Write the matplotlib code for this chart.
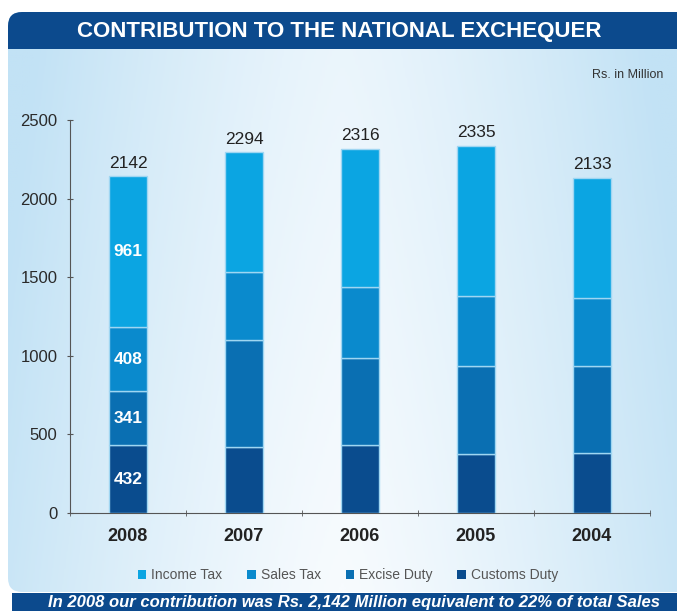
import numpy as np
import matplotlib
matplotlib.use("Agg")
import matplotlib.pyplot as plt
from matplotlib.patches import FancyBboxPatch, Rectangle
from matplotlib.colors import LinearSegmentedColormap

plt.rcParams['font.family'] = ['Liberation Sans', 'DejaVu Sans']

# data (Rs. in Million)
years = ["2008", "2007", "2006", "2005", "2004"]
customs_duty = [432, 422, 433, 376, 380]
excise_duty = [341, 680, 552, 556, 558]
sales_tax = [408, 429, 452, 446, 429]
income_tax = [961, 763, 879, 957, 766]
totals = [2142, 2294, 2316, 2335, 2133]

series = [
    ("Customs Duty", customs_duty, "#0a4c8e"),
    ("Excise Duty", excise_duty, "#0a6fb2"),
    ("Sales Tax", sales_tax, "#0a8acd"),
    ("Income Tax", income_tax, "#0ba5e2"),
]

W, H = 677, 611
fig = plt.figure(figsize=(W / 100, H / 100), dpi=100)
fig.patch.set_facecolor("white")

# background panel, drawn in pixel coords
bg = fig.add_axes([0, 0, 1, 1])
bg.set_xlim(0, W)
bg.set_ylim(H, 0)
bg.axis("off")

panel = FancyBboxPatch((8, 12), 720, 580, boxstyle="round,pad=0,rounding_size=14",
                       facecolor="none", edgecolor="none")
bg.add_patch(panel)
gx, gy = np.meshgrid(np.linspace(0, 1, 300), np.linspace(0, 1, 300))
grad = np.clip(np.abs(gx - 0.5) * 2.0, 0, 1) ** 1.3 * 0.85 + (1 - gy) * 0.25
grad = np.clip(grad, 0, 1)
cmap = LinearSegmentedColormap.from_list("bgc", ["#f7fbfe", "#c2e2f5"])
im = bg.imshow(grad, cmap=cmap, extent=(8, 677, 592, 12), aspect="auto", zorder=0)
im.set_clip_path(panel)

header = Rectangle((8, 12), 700, 37, facecolor="#0c4a8d", edgecolor="none", zorder=1)
bg.add_patch(header)
header.set_clip_path(panel)
bg.text(339, 31, "CONTRIBUTION TO THE NATIONAL EXCHEQUER", color="white",
        fontsize=16, fontweight="bold", ha="center", va="center", zorder=2)

bg.add_patch(Rectangle((12, 593), 680, 20, facecolor="#0c4a8d", edgecolor="none", zorder=1))
bg.text(354, 603, "In 2008 our contribution was Rs. 2,142 Million equivalent to 22% of total Sales",
        color="white", fontsize=12, fontweight="bold", style="italic",
        ha="center", va="center", zorder=2)

bg.text(663, 75, "Rs. in Million", color="#333333", fontsize=9, ha="right", va="center")

# chart axes
ax = fig.add_axes([70 / W, (H - 513) / H, 580 / W, 393 / H])
ax.patch.set_alpha(0)
x = np.arange(len(years))
bottom = np.zeros(len(years))
for name, vals, col in series:
    ax.bar(x, vals, width=0.33, bottom=bottom, color=col, edgecolor="#9fd6f2",
           linewidth=1, label=name, zorder=3)
    # segment values are printed only for the first year
    ax.text(x[0], bottom[0] + vals[0] / 2, str(vals[0]), color="white", fontsize=12.5,
            fontweight="bold", ha="center", va="center", zorder=4)
    bottom += np.array(vals)

for xi, t in zip(x, totals):
    ax.text(xi, t + 35, str(t), color="#222222", fontsize=12.5, ha="center", va="bottom")

ax.set_xlim(-0.5, len(years) - 0.5)
ax.set_ylim(0, 2500)
ax.set_yticks([0, 500, 1000, 1500, 2000, 2500])
ax.set_xticks(x)
ax.set_xticklabels(years, fontsize=13, fontweight="bold", color="#222222")
ax.set_xticks(np.arange(-0.5, len(years)), minor=True)
ax.tick_params(axis="x", which="major", length=0, pad=11)
ax.tick_params(axis="x", which="minor", length=4, direction="inout", color="#555555")
ax.tick_params(axis="y", length=4, direction="inout", color="#555555", labelsize=12,
               labelcolor="#2a2a2a", pad=7)
for s in ["top", "right"]:
    ax.spines[s].set_visible(False)
ax.spines["left"].set_color("#555555")
ax.spines["bottom"].set_color("#555555")

handles, labels = ax.get_legend_handles_labels()
leg = fig.legend(handles[::-1], labels[::-1], loc="center", bbox_to_anchor=(348 / W, (H - 575) / H),
                 ncol=4, frameon=False, fontsize=10, handlelength=0.6, handleheight=0.6,
                 handletextpad=0.35, columnspacing=1.8, labelcolor="#555555")
for h in leg.legend_handles:
    h.set_edgecolor("none")

fig.savefig("out.png", dpi=100)
